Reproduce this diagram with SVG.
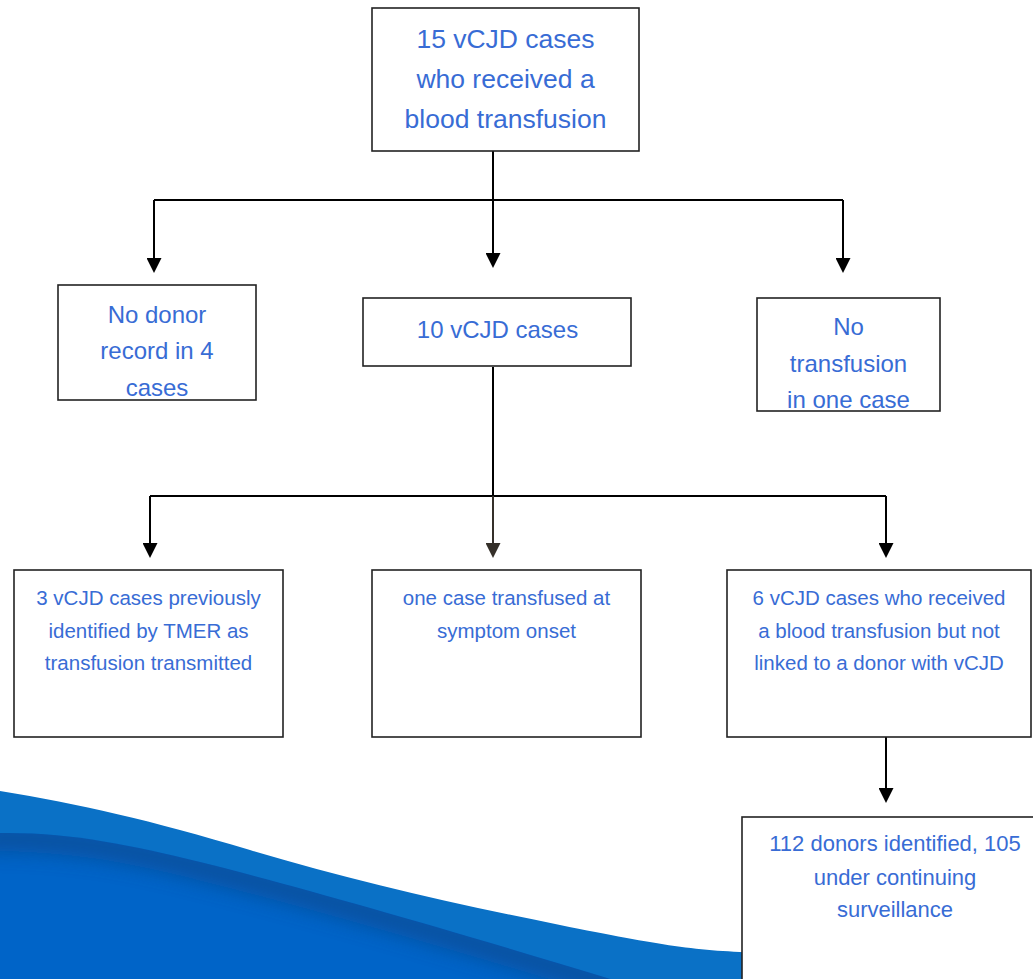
<svg xmlns="http://www.w3.org/2000/svg" width="1033" height="979" viewBox="0 0 1033 979">
  <defs>
    <style>
      .box { fill: #ffffff; stroke: #222222; stroke-width: 1.6; }
      .lbl { font-family: "Liberation Sans", Arial, sans-serif; fill: #386cd5; text-anchor: middle; }
      .t1 { font-size: 26.5px; }
      .t2 { font-size: 24px; }
      .t3 { font-size: 20.5px; }
      .t4 { font-size: 22px; }
      .wire { fill: none; stroke: #000000; stroke-width: 2; }
      .wire-dim { fill: none; stroke: #35302a; stroke-width: 2; }
    </style>
    <marker id="head" markerUnits="userSpaceOnUse" viewBox="0 0 15 15" markerWidth="15" markerHeight="15" refX="11" refY="7.5" orient="auto">
      <path d="M0,0 L15,7.5 L0,15 Z" fill="#000000"/>
    </marker>
    <marker id="head-dim" markerUnits="userSpaceOnUse" viewBox="0 0 15 15" markerWidth="15" markerHeight="15" refX="11" refY="7.5" orient="auto">
      <path d="M0,0 L15,7.5 L0,15 Z" fill="#35302a"/>
    </marker>
    <clipPath id="deepClip">
      <path d="M0,833 C70,832 130,845 200,862 C300,887 450,930 630,985 L0,985 Z"/>
    </clipPath>
    <filter id="soft" x="-10%" y="-50%" width="120%" height="200%">
      <feGaussianBlur stdDeviation="10"/>
    </filter>
  </defs>

  <!-- decorative wave in the lower left corner -->
  <g id="wave">
    <path d="M0,791 C80,804 150,820 250,850 S450,903 560,925 S700,952 780,953 L1033,953 L1033,979 L0,979 Z" fill="#0a71c6"/>
    <path d="M0,833 C70,832 130,845 200,862 C300,887 450,930 630,985 L0,985 Z" fill="#0064c8"/>
    <g clip-path="url(#deepClip)">
      <path d="M-20,838 C70,837 130,850 200,867 C300,892 450,935 630,990" fill="none" stroke="#0b4a8e" stroke-width="26" opacity="0.7" filter="url(#soft)"/>
    </g>
  </g>

  <!-- connectors -->
  <g id="connectors">
    <path class="wire" d="M493,151 V264" marker-end="url(#head)"/>
    <path class="wire" d="M154,200 H843"/>
    <path class="wire" d="M154,200 V269" marker-end="url(#head)"/>
    <path class="wire" d="M843,200 V269" marker-end="url(#head)"/>

    <path class="wire" d="M493,367 V496"/>
    <path class="wire" d="M150,496 H886"/>
    <path class="wire" d="M150,496 V554" marker-end="url(#head)"/>
    <path class="wire-dim" d="M493,496 V554" marker-end="url(#head-dim)"/>
    <path class="wire" d="M886,496 V554" marker-end="url(#head)"/>

    <path class="wire" d="M886,737 V799" marker-end="url(#head)"/>
  </g>

  <g id="n-all-cases">
    <rect class="box" x="372" y="8" width="267" height="143"/>
    <text class="lbl t1" x="505.5" y="48">15 vCJD cases</text>
    <text class="lbl t1" x="505.5" y="88">who received a</text>
    <text class="lbl t1" x="505.5" y="128">blood transfusion</text>
  </g>

  <g id="n-no-donor-record">
    <rect class="box" x="58" y="285" width="198" height="115"/>
    <text class="lbl t2" x="157" y="323">No donor</text>
    <text class="lbl t2" x="157" y="359">record in 4</text>
    <text class="lbl t2" x="157" y="396">cases</text>
  </g>

  <g id="n-ten-cases">
    <rect class="box" x="363" y="298" width="268" height="68"/>
    <text class="lbl t2" x="497.5" y="338">10 vCJD cases</text>
  </g>

  <g id="n-no-transfusion">
    <rect class="box" x="757" y="298" width="183" height="113"/>
    <text class="lbl t2" x="848.5" y="335">No</text>
    <text class="lbl t2" x="848.5" y="372">transfusion</text>
    <text class="lbl t2" x="848.5" y="408">in one case</text>
  </g>

  <g id="n-tmer-cases">
    <rect class="box" x="14" y="570" width="269" height="167"/>
    <text class="lbl t3" x="148.5" y="605">3 vCJD cases previously</text>
    <text class="lbl t3" x="148.5" y="638">identified by TMER as</text>
    <text class="lbl t3" x="148.5" y="670">transfusion transmitted</text>
  </g>

  <g id="n-symptom-onset">
    <rect class="box" x="372" y="570" width="269" height="167"/>
    <text class="lbl t3" x="506.5" y="605">one case transfused at</text>
    <text class="lbl t3" x="506.5" y="638">symptom onset</text>
  </g>

  <g id="n-not-linked">
    <rect class="box" x="727" y="570" width="304" height="167"/>
    <text class="lbl t3" x="879" y="605">6 vCJD cases who received</text>
    <text class="lbl t3" x="879" y="638">a blood transfusion but not</text>
    <text class="lbl t3" x="879" y="670">linked to a donor with vCJD</text>
  </g>

  <g id="n-donors">
    <rect class="box" x="742" y="817" width="310" height="180"/>
    <text class="lbl t4" x="895" y="851">112 donors identified, 105</text>
    <text class="lbl t4" x="895" y="885">under continuing</text>
    <text class="lbl t4" x="895" y="917">surveillance</text>
  </g>
</svg>
